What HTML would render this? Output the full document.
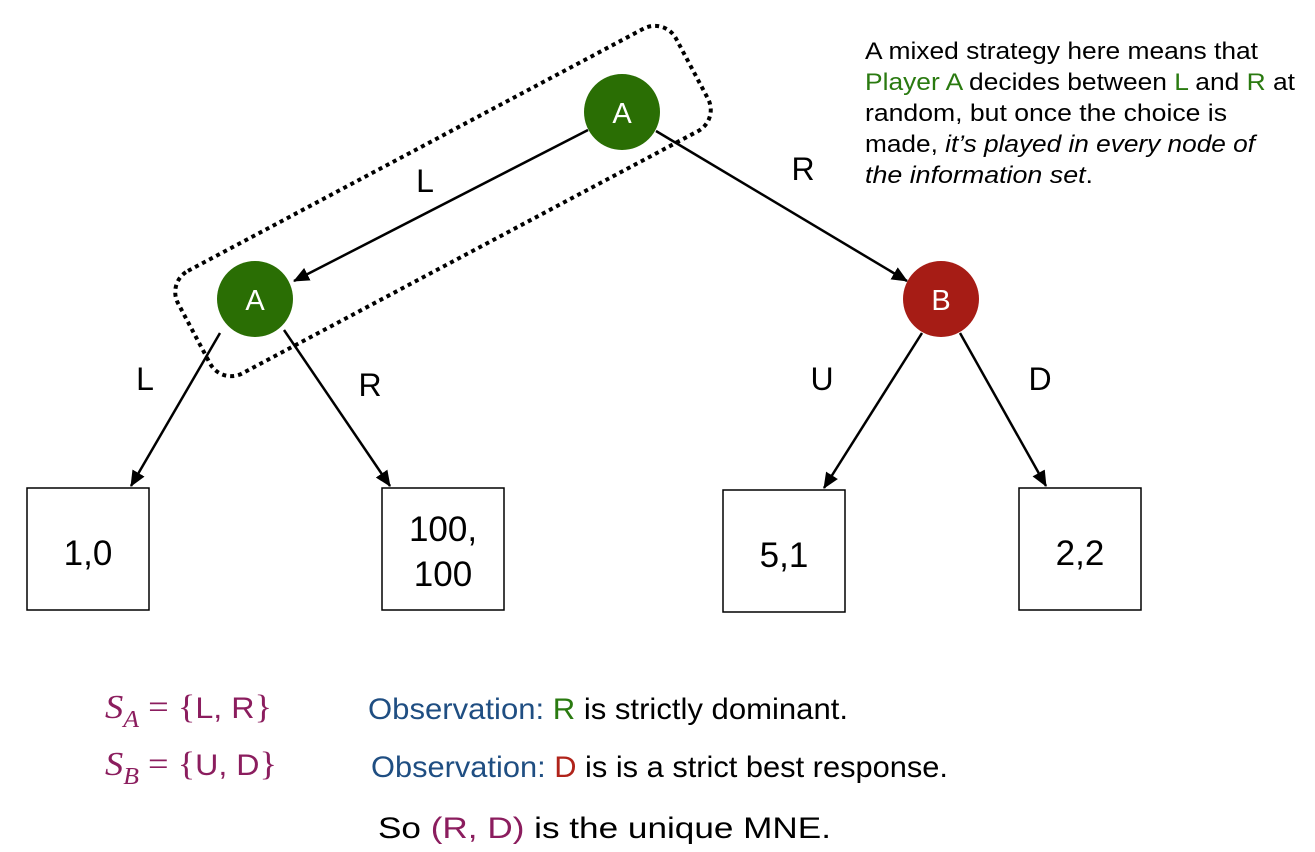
<!DOCTYPE html>
<html><head><meta charset="utf-8"><style>
body{margin:0;background:#fff;width:1315px;height:852px;overflow:hidden;font-family:"Liberation Sans",sans-serif}
svg{position:absolute;left:0;top:0}
</style></head><body>
<svg width="1315" height="852">
<defs>
<marker id="a2" markerWidth="16" markerHeight="14" refX="15" refY="7" orient="auto" markerUnits="userSpaceOnUse"><path d="M0,0 L16,7 L0,14 z" fill="#000"/></marker></defs>
<rect x="-282" y="-58" width="564" height="116" rx="24" transform="translate(443,201) rotate(-28)" fill="none" stroke="#000" stroke-width="4" stroke-dasharray="4 4"/>
<g stroke="#000" stroke-width="2.5" fill="none">
<line x1="588" y1="130" x2="294" y2="281" marker-end="url(#a2)"/>
<line x1="656" y1="131" x2="907" y2="281" marker-end="url(#a2)"/>
<line x1="220" y1="333" x2="131" y2="486" marker-end="url(#a2)"/>
<line x1="284" y1="330" x2="390" y2="486" marker-end="url(#a2)"/>
<line x1="922" y1="333" x2="824" y2="488" marker-end="url(#a2)"/>
<line x1="960" y1="333" x2="1046" y2="486" marker-end="url(#a2)"/>
</g>
<g font-size="32" font-family="Liberation Sans, sans-serif" fill="#000" text-anchor="middle">
<text x="425" y="192">L</text>
<text x="803" y="180">R</text>
<text x="145" y="390">L</text>
<text x="370" y="396">R</text>
<text x="822" y="390">U</text>
<text x="1040" y="390">D</text>
</g>
<circle cx="622" cy="112" r="38" fill="#2a6e04"/>
<circle cx="255" cy="299" r="38" fill="#2a6e04"/>
<circle cx="941" cy="299" r="38" fill="#a61c15"/>
<g font-size="29" fill="#fff" text-anchor="middle" font-family="Liberation Sans, sans-serif">
<text x="622" y="123">A</text><text x="255" y="310">A</text><text x="941" y="310">B</text>
</g>
<g fill="#fff" stroke="#000" stroke-width="1.5">
<rect x="27" y="488" width="122" height="122"/>
<rect x="382" y="488" width="122" height="122"/>
<rect x="723" y="490" width="122" height="122"/>
<rect x="1019" y="488" width="122" height="122"/>
</g>
<g font-size="35" fill="#000" text-anchor="middle" font-family="Liberation Sans, sans-serif">
<text x="88" y="565">1,0</text>
<text x="443" y="541">100,</text><text x="443" y="586">100</text>
<text x="784" y="567">5,1</text>
<text x="1080" y="565">2,2</text>
</g>
<g font-size="24" fill="#000" font-family="Liberation Sans, sans-serif">
<text x="865" y="59" textLength="393" lengthAdjust="spacingAndGlyphs">A mixed strategy here means that</text>
<text x="865" y="90" textLength="430" lengthAdjust="spacingAndGlyphs"><tspan fill="#2a7a10">Player A</tspan> decides between <tspan fill="#2a7a10">L</tspan> and <tspan fill="#2a7a10">R</tspan> at</text>
<text x="865" y="121" textLength="362" lengthAdjust="spacingAndGlyphs">random, but once the choice is</text>
<text x="865" y="152" textLength="390" lengthAdjust="spacingAndGlyphs">made, <tspan font-style="italic">it’s played in every node of</tspan></text>
<text x="865" y="183" textLength="228" lengthAdjust="spacingAndGlyphs"><tspan font-style="italic">the information set</tspan>.</text>
</g>
<g fill="#8b1d5e" font-size="34">
<text x="105" y="718" textLength="167" lengthAdjust="spacingAndGlyphs"><tspan font-family="Liberation Serif, serif" font-style="italic">S</tspan><tspan font-family="Liberation Serif, serif" font-style="italic" font-size="24" dy="9">A</tspan><tspan dy="-9" font-family="Liberation Serif, serif"> = {</tspan><tspan font-family="Liberation Sans, sans-serif" font-size="30">L, R</tspan><tspan font-family="Liberation Serif, serif">}</tspan></text>
<text x="105" y="775" textLength="172" lengthAdjust="spacingAndGlyphs"><tspan font-family="Liberation Serif, serif" font-style="italic">S</tspan><tspan font-family="Liberation Serif, serif" font-style="italic" font-size="24" dy="9">B</tspan><tspan dy="-9" font-family="Liberation Serif, serif"> = {</tspan><tspan font-family="Liberation Sans, sans-serif" font-size="30">U, D</tspan><tspan font-family="Liberation Serif, serif">}</tspan></text>
</g>
<g font-size="30" font-family="Liberation Sans, sans-serif" fill="#000">
<text x="368" y="719" textLength="480" lengthAdjust="spacingAndGlyphs"><tspan fill="#1f4e82">Observation: </tspan><tspan fill="#2a7a10">R</tspan> is strictly dominant.</text>
<text x="371" y="777" textLength="577" lengthAdjust="spacingAndGlyphs"><tspan fill="#1f4e82">Observation: </tspan><tspan fill="#b0231a">D</tspan> is is a strict best response.</text>
<text x="378" y="838" textLength="453" lengthAdjust="spacingAndGlyphs">So <tspan fill="#8b1d5e">(R, D)</tspan> is the unique MNE.</text>
</g>
</svg>
</body></html>
